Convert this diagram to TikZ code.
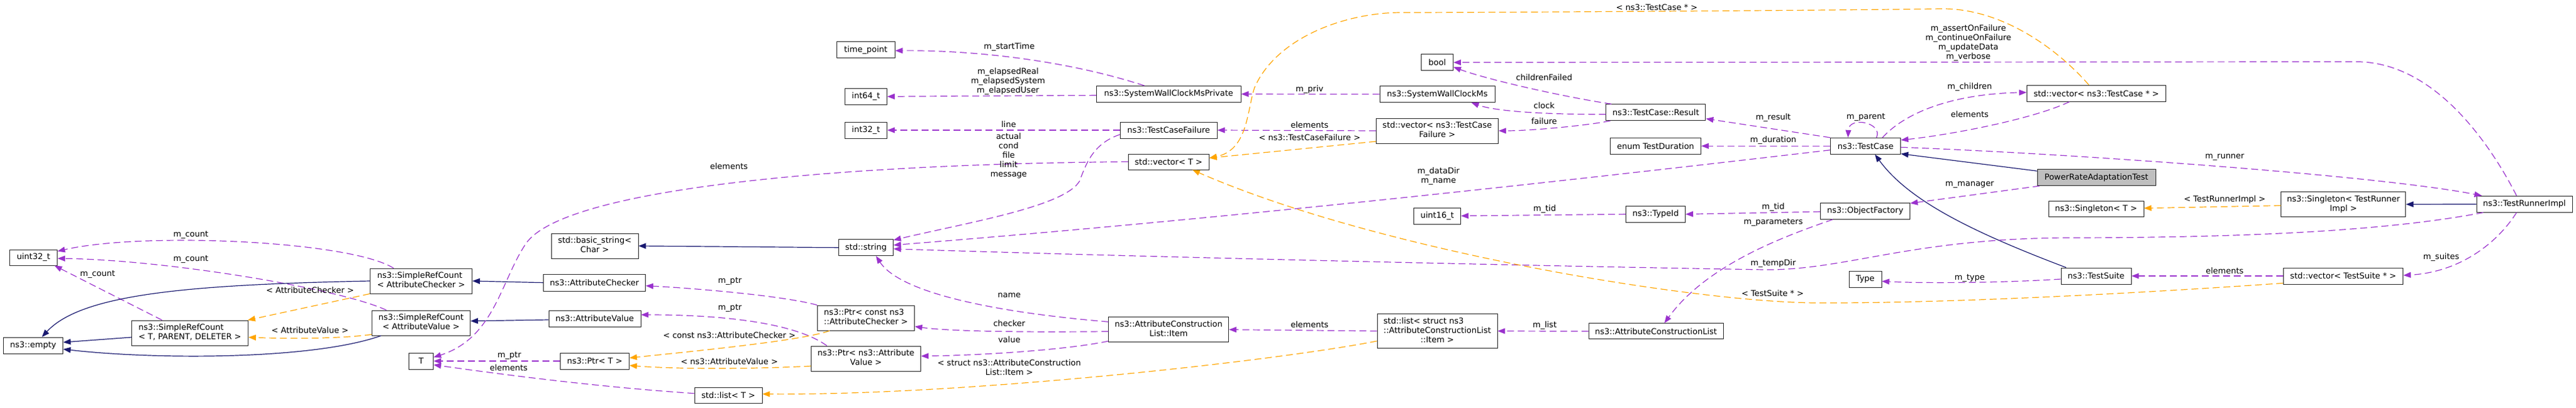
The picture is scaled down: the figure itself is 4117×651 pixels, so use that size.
\documentclass[tikz,border=0pt]{standalone}
\usepackage{fontspec}
\setmainfont{DejaVu Sans}
\usetikzlibrary{arrows.meta,calc}
\definecolor{pur}{HTML}{9A32CD}
\definecolor{org}{HTML}{FFA500}
\definecolor{navy}{HTML}{191970}
\definecolor{hl}{HTML}{BFBFBF}
\newcommand\dfont{\fontsize{13}{15}\selectfont}
\newcommand\twoln[2]{\begin{tabular}{@{}l@{}}#1\\\multicolumn{1}{@{}c@{}}{#2}\end{tabular}}
\newcommand\threeln[3]{\begin{tabular}{@{}l@{}}#1\\#2\\\multicolumn{1}{@{}c@{}}{#3}\end{tabular}}
\tikzset{
  box/.style={draw=black!85, fill=white, line width=0.9pt, inner sep=0pt, font=\dfont},
  lbl/.style={font=\dfont, align=center, inner sep=0pt},
  dep/.style={draw=pur, line width=1.2pt, dash pattern=on 11pt off 6pt, -{Triangle[length=12pt,width=9pt]}},
  tmpl/.style={draw=org, line width=1.2pt, dash pattern=on 11pt off 6pt, -{Triangle[length=12pt,width=9pt]}},
  inh/.style={draw=navy, line width=1.2pt, -{Triangle[length=12pt,width=9pt]}}
}
\begin{document}
\begin{tikzpicture}[x=1pt,y=-1pt]
\useasboundingbox (0,0) rectangle (4117,651);
% nodes
\node[box,minimum width=76,minimum height=25] (u32) at (53.5,411.5) {uint32\_t};
\node[box,minimum width=95,minimum height=26] (empty) at (53,552) {ns3::empty};
\node[box,minimum width=186,minimum height=40] (srcT) at (303.5,532) {\twoln{ns3::SimpleRefCount}{< T, PARENT, DELETER >}};
\node[box,minimum width=163,minimum height=40] (srcAC) at (673,449) {\twoln{ns3::SimpleRefCount}{< AttributeChecker >}};
\node[box,minimum width=157,minimum height=40] (srcAV) at (673,516) {\twoln{ns3::SimpleRefCount}{< AttributeValue >}};
\node[box,minimum width=39,minimum height=26] (T) at (673,577) {T};
\node[box,minimum width=139,minimum height=40] (bstr) at (950.5,393) {\twoln{std::basic\_string<}{Char >}};
\node[box,minimum width=163,minimum height=27] (ac) at (950,451.7) {ns3::AttributeChecker};
\node[box,minimum width=147,minimum height=26] (av) at (950.5,509) {ns3::AttributeValue};
\node[box,minimum width=110,minimum height=26] (ptrT) at (950.5,577) {ns3::Ptr< T >};
\node[box,minimum width=108,minimum height=25] (listT) at (1164,631.7) {std::list< T >};
\node[box,minimum width=93,minimum height=26] (tp) at (1383.7,79.7) {time\_point};
\node[box,minimum width=67,minimum height=26] (i64) at (1384,154.3) {int64\_t};
\node[box,minimum width=67,minimum height=26] (i32) at (1384,208) {int32\_t};
\node[box,minimum width=87,minimum height=26] (str) at (1384,395.7) {std::string};
\node[box,minimum width=155,minimum height=40] (ptrcac) at (1384,508) {\twoln{ns3::Ptr< const ns3}{::AttributeChecker >}};
\node[box,minimum width=175,minimum height=40] (ptrav) at (1384,573) {\twoln{ns3::Ptr< ns3::Attribute}{Value >}};
\node[box,minimum width=231,minimum height=26] (swcmp) at (1867.7,150.3) {ns3::SystemWallClockMsPrivate};
\node[box,minimum width=155,minimum height=26] (tcf) at (1867.7,208) {ns3::TestCaseFailure};
\node[box,minimum width=129,minimum height=25] (vecT) at (1867.7,258.5) {std::vector< T >};
\node[box,minimum width=192,minimum height=40] (item) at (1867.7,526.7) {\twoln{ns3::AttributeConstruction}{List::Item}};
\node[box,minimum width=51,minimum height=26] (bool) at (2297,99.8) {bool};
\node[box,minimum width=184,minimum height=26] (swcm) at (2297,150.5) {ns3::SystemWallClockMs};
\node[box,minimum width=195,minimum height=40] (vtcf) at (2297,209) {\twoln{std::vector< ns3::TestCase}{Failure >}};
\node[box,minimum width=75,minimum height=26] (u16) at (2297,345) {uint16\_t};
\node[box,minimum width=192,minimum height=55] (lstItem) at (2297,529) {\threeln{std::list< struct ns3}{::AttributeConstructionList}{::Item >}};
\node[box,minimum width=159,minimum height=26] (result) at (2646.4,179.7) {ns3::TestCase::Result};
\node[box,minimum width=145,minimum height=26] (dur) at (2646,233.3) {enum TestDuration};
\node[box,minimum width=95,minimum height=26] (typeid) at (2646,342.3) {ns3::TypeId};
\node[box,minimum width=215,minimum height=25] (acl) at (2646.5,529.3) {ns3::AttributeConstructionList};
\node[box,minimum width=112,minimum height=26] (tc) at (2981.5,233.3) {ns3::TestCase};
\node[box,minimum width=143,minimum height=26] (of) at (2981,337.3) {ns3::ObjectFactory};
\node[box,minimum width=52,minimum height=26] (type) at (2981,446.5) {Type};
\node[box,minimum width=222,minimum height=26] (vtc) at (3350.4,149.2) {std::vector< ns3::TestCase * >};
\node[box,fill=hl,minimum width=189,minimum height=26] (prat) at (3350.5,283.7) {PowerRateAdaptationTest};
\node[box,minimum width=152,minimum height=25] (singT) at (3350,334.3) {ns3::Singleton< T >};
\node[box,minimum width=112,minimum height=26] (ts) at (3350,441) {ns3::TestSuite};
\node[box,minimum width=199,minimum height=40] (singTRI) at (3745.3,326.5) {\twoln{ns3::Singleton< TestRunner}{Impl >}};
\node[box,minimum width=191,minimum height=26] (vts) at (3745,441) {std::vector< TestSuite * >};
\node[box,minimum width=153,minimum height=26] (tri) at (4034.5,326.2) {ns3::TestRunnerImpl};
% edges
\draw[dep] ($(srcAC.north west)+(38,0)$) .. controls (560,385) and (230,370) .. ($(u32.east)+(0,-10)$);
\draw[dep] ($(srcAV.north west)+(23.5,0)$) .. controls (540,460) and (260,415) .. ($(u32.east)+(0,1.5)$);
\draw[dep] ($(srcT.north)+(-44.5,0)$) -- ($(u32.south)+(33.5,0)$);
\draw[inh] (srcAC.west) .. controls (300,455) and (130,470) .. ($(empty.north)+(14,0)$);
\draw[inh] ($(srcT.west)+(0,7)$) -- ($(empty.east)+(0,-5)$);
\draw[inh] ($(srcAV.south west)+(15,0)$) .. controls (500,575) and (250,575) .. ($(empty.east)+(0,6)$);
\draw[tmpl] (srcAC.south west) -- ($(srcT.north east)+(-1,0)$);
\draw[tmpl] ($(srcAV.south west)+(0,-2)$) .. controls (540,542) and (450,541) .. ($(srcT.east)+(0,7)$);
\draw[inh] (ac.west) -- (srcAC.east);
\draw[inh] ($(av.west)+(0,2)$) -- ($(srcAV.east)+(0,-3)$);
\draw[inh] (str.west) -- (bstr.east);
\draw[dep] (ptrcac.north west) .. controls (1250,472) and (1100,460) .. ($(ac.east)+(0,5)$);
\draw[dep] ($(ptrav.north west)+(25.5,0)$) .. controls (1270,515) and (1150,503) .. ($(av.east)+(0,-6)$);
\draw[tmpl] ($(ptrcac.south west)+(20,0)$) .. controls (1280,545) and (1100,562) .. ($(ptrT.east)+(0,-5)$);
\draw[tmpl] ($(ptrav.west)+(0,12)$) .. controls (1200,590) and (1080,590) .. ($(ptrT.east)+(0,7)$);
\draw[dep] (ptrT.west) -- (T.east);
\draw[dep] ($(listT.west)+(0,-3)$) .. controls (950,618) and (800,598) .. ($(T.east)+(0,6)$);
\draw[dep] (vecT.west) .. controls (1350,262) and (900,300) .. (840,390) .. controls (800,450) and (790,540) .. ($(T.east)+(0,-6)$);
\draw[dep] (tcf.west) -- (i32.east);
\draw[dep] ($(tcf.west)+(0,7)$) .. controls (1745,230) and (1735,265) .. (1725,290) .. controls (1700,330) and (1550,355) .. ($(str.east)+(0,-12)$);
\draw[dep] ($(swcmp.north)+(-39,0)$) .. controls (1700,95) and (1550,80) .. ($(tp.east)+(0,1.3)$);
\draw[dep] ($(swcmp.west)+(0,2)$) -- (i64.east);
\draw[dep] (swcm.west) -- (swcmp.east);
\draw[dep] (vtcf.west) -- (tcf.east);
\draw[tmpl] ($(vtcf.west)+(0,17)$) -- ($(vecT.east)+(0,-6)$);
\draw[tmpl] ($(vtc.north)+(-12,0)$) .. controls (3290,80) and (3200,12) .. (3100,14) .. controls (3000,16) and (2400,20) .. (2240,20) .. controls (2150,20) and (2040,60) .. (2005,140) .. controls (1993,175) and (1995,240) .. ($(vecT.east)+(0,-6)$);
\draw[dep] ($(result.north west)+(9,0)$) .. controls (2500,155) and (2380,128) .. ($(bool.south east)+(0,-6)$);
\draw[dep] ($(result.west)+(0,3)$) .. controls (2470,183) and (2390,178) .. ($(swcm.south)+(54.5,0)$);
\draw[dep] ($(result.south west)+(7,0)$) .. controls (2540,200) and (2450,209) .. (vtcf.east);
\draw[dep] (tc.north west) -- ($(result.east)+(0,10)$);
\draw[dep] (tc.west) -- (dur.east);
\draw[dep] ($(tc.north)+(17.5,0)$) .. controls (3010,196) and (2955,185) .. ($(tc.north)+(-28,0)$);
\draw[dep] ($(tc.north)+(27,0)$) .. controls (3045,180) and (3120,150) .. ($(vtc.west)+(0,-1.5)$);
\draw[dep] ($(vtc.south)+(-43,0)$) .. controls (3250,190) and (3120,215) .. ($(tc.north east)+(0,4)$);
\draw[inh] ($(prat.north west)+(0,3)$) -- ($(tc.south east)+(0,-1)$);
\draw[inh] ($(ts.north west)+(8.6,0)$) .. controls (3150,370) and (3050,320) .. ($(tc.south)+(15,0)$);
\draw[dep] ($(prat.south west)+(4,0)$) -- ($(of.north east)+(0,1)$);
\draw[dep] ($(tc.east)+(0,2)$) .. controls (3300,245) and (3800,280) .. ($(tri.north west)+(9,0)$);
\draw[dep] ($(tri.north)+(-12.5,0)$) .. controls (3990,250) and (3900,98.7) .. (3766,98.7) -- (bool.east);
\draw[dep] ($(tc.south west)+(0,-7)$) .. controls (2426,298) and (1927,352) .. ($(str.east)+(0,-4)$);
\draw[dep] ($(tri.south west)+(11,0)$) .. controls (3800,372) and (3550,380) .. (3300,380) .. controls (3050,382) and (2950,432) .. (2820,431) .. controls (2500,426) and (1800,410) .. ($(str.east)+(0,2)$);
\draw[dep] ($(of.west)+(0,1)$) -- (typeid.east);
\draw[dep] (typeid.west) -- (u16.east);
\draw[dep] ($(of.south west)+(20,0)$) .. controls (2860,375) and (2730,420) .. ($(acl.north)+(13.5,0)$);
\draw[dep] (acl.west) -- (lstItem.east);
\draw[dep] (lstItem.west) -- (item.east);
\draw[tmpl] ($(lstItem.west)+(0,16)$) .. controls (2050,575) and (1550,632) .. ($(listT.east)+(0,-2)$);
\draw[dep] ($(item.north west)+(0,8)$) .. controls (1600,500) and (1440,470) .. ($(str.south)+(16,0)$);
\draw[dep] ($(item.west)+(0,3)$) .. controls (1650,531) and (1520,530) .. ($(ptrcac.east)+(0,13.7)$);
\draw[dep] ($(item.south west)+(0,-2)$) .. controls (1700,560) and (1560,568) .. ($(ptrav.east)+(0,-4)$);
\draw[inh] (tri.west) -- (singTRI.east);
\draw[tmpl] ($(singTRI.west)+(0,2)$) -- ($(singT.east)+(0,-1.6)$);
\draw[dep] ($(tri.south)+(-12.5,0)$) .. controls (3990,390) and (3930,435) .. ($(vts.east)+(0,-1)$);
\draw[dep] (vts.west) -- (ts.east);
\draw[tmpl] ($(vts.south west)+(0,-2)$) .. controls (3400,470) and (3100,485) .. (2900,484) .. controls (2700,482) and (2200,400) .. ($(vecT.south east)+(-27,0)$);
\draw[dep] ($(ts.west)+(0,5)$) .. controls (3200,452) and (3080,453) .. ($(type.east)+(0,3)$);
% labels
\node[lbl] (l1) at (305,375.7) {m\_count};
\node[lbl] (l2) at (305,414.7) {m\_count};
\node[lbl] (l3) at (156,438) {m\_count};
\node[lbl] (l4) at (495.5,464) {< AttributeChecker >};
\node[lbl] (l5) at (495.5,528) {< AttributeValue >};
\node[lbl] (l6) at (1165,266) {elements};
\node[lbl] (l7) at (1166.5,449) {m\_ptr};
\node[lbl] (l8) at (1166.5,492.7) {m\_ptr};
\node[lbl] (l9) at (814,568) {m\_ptr};
\node[lbl] (l10) at (1165.6,535.7) {< const ns3::AttributeChecker >};
\node[lbl] (l11) at (1165.6,577.7) {< ns3::AttributeValue >};
\node[lbl] (l12) at (813,588) {elements};
\node[lbl] (l13) at (1613,74.7) {m\_startTime};
\node[lbl] (l14) at (1611,130) {m\_elapsedReal\\m\_elapsedSystem\\m\_elapsedUser};
\node[lbl] (l15) at (1612,199) {line};
\node[lbl] (l16) at (1612,249) {actual\\cond\\file\\limit\\message};
\node[lbl] (l17) at (2093,142.7) {m\_priv};
\node[lbl] (l18) at (2093,199.3) {elements};
\node[lbl] (l19) at (2093,219.3) {< ns3::TestCaseFailure >};
\node[lbl] (l20) at (2648,11.7) {< ns3::TestCase * >};
\node[lbl] (l21) at (2467.8,123.3) {childrenFailed};
\node[lbl] (l22) at (2467.8,168.3) {clock};
\node[lbl] (l23) at (2467.8,194) {failure};
\node[lbl] (l24) at (2834,187.7) {m\_result};
\node[lbl] (l25) at (2834,224.3) {m\_duration};
\node[lbl] (l26) at (2982,187.7) {m\_parent};
\node[lbl] (l27) at (3148,139.3) {m\_children};
\node[lbl] (l28) at (3148,182.3) {elements};
\node[lbl] (l29) at (3145.8,68.7) {m\_assertOnFailure\\m\_continueOnFailure\\m\_updateData\\m\_verbose};
\node[lbl] (l30) at (2299,281.7) {m\_dataDir\\m\_name};
\node[lbl] (l31) at (3148,295.7) {m\_manager};
\node[lbl] (l32) at (3555.5,251.7) {m\_runner};
\node[lbl] (l33) at (2834,330.7) {m\_tid};
\node[lbl] (l34) at (2468.7,334.3) {m\_tid};
\node[lbl] (l35) at (2834,355.7) {m\_parameters};
\node[lbl] (l36) at (2834,421) {m\_tempDir};
\node[lbl] (l37) at (3148,444) {m\_type};
\node[lbl] (l38) at (2833,468.3) {< TestSuite * >};
\node[lbl] (l39) at (2468.7,520) {m\_list};
\node[lbl] (l40) at (2093,518.3) {elements};
\node[lbl] (l41) at (1613,587) {< struct ns3::AttributeConstruction\\List::Item >};
\node[lbl] (l42) at (1613,471.7) {name};
\node[lbl] (l43) at (1613,516.7) {checker};
\node[lbl] (l44) at (1613,542.3) {value};
\node[lbl] (l45) at (3555.5,319.3) {< TestRunnerImpl >};
\node[lbl] (l46) at (3901.6,410.7) {m\_suites};
\node[lbl] (l47) at (3555.5,432.7) {elements};
\end{tikzpicture}
\end{document}
